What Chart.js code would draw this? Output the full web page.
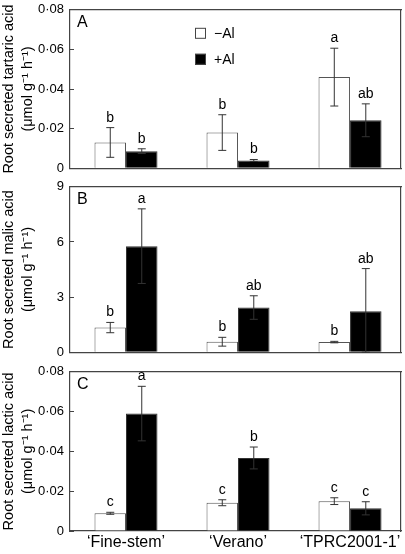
<!DOCTYPE html>
<html>
<head>
<meta charset="utf-8">
<script src="https://cdn.jsdelivr.net/npm/chart.js@4.4.0/dist/chart.umd.min.js"></script>
<style>
  html, body { margin: 0; padding: 0; background: #fff; overflow: hidden; }
  #wrap { position: relative; width: 405px; height: 554px; }
  .panel { position: absolute; left: 0; width: 405px; }
</style>
</head>
<body>
<div id="wrap">
  <div class="panel" style="top:-8px;height:194px"><canvas id="chartA"></canvas></div>
  <div class="panel" style="top:169px;height:201px"><canvas id="chartB"></canvas></div>
  <div class="panel" style="top:354px;height:200px"><canvas id="chartC"></canvas></div>
</div>
<script>
const cultivars = ["\u2018Fine-stem\u2019", "\u2018Verano\u2019", "\u2018TPRC2001-1\u2019"];
const treatments = ["\u2212Al", "+Al"];
const unitLine = "(\u03bcmol g\u207b\u00b9 h\u207b\u00b9)";

// A: tartaric acid
const tartaricMinusAl = [0.013, 0.018, 0.046];
const tartaricPlusAl = [0.0086, 0.0039, 0.0242];
const tartaricMinusAlErr = [0.0075, 0.009, 0.0146];
const tartaricPlusAlErr = [0.0012, 0.0005, 0.0083];
const tartaricMinusAlLetters = ["b", "b", "a"];
const tartaricPlusAlLetters = ["b", "b", "ab"];
const tartaricTicks = [0, 0.02, 0.04, 0.06, 0.08];

// B: malic acid
const malicMinusAl = [1.34, 0.57, 0.55];
const malicPlusAl = [5.77, 2.43, 2.23];
const malicMinusAlErr = [0.28, 0.24, 0.04];
const malicPlusAlErr = [2.03, 0.64, 2.32];
const malicMinusAlLetters = ["b", "b", "b"];
const malicPlusAlLetters = ["a", "ab", "ab"];
const malicTicks = [0, 3, 6, 9];

// C: lactic acid
const lacticMinusAl = [0.0089, 0.0142, 0.015];
const lacticPlusAl = [0.059, 0.0367, 0.0114];
const lacticMinusAlErr = [0.0005, 0.0015, 0.0017];
const lacticPlusAlErr = [0.0137, 0.0055, 0.0033];
const lacticMinusAlLetters = ["c", "c", "c"];
const lacticPlusAlLetters = ["a", "b", "c"];
const lacticTicks = [0, 0.02, 0.04, 0.06, 0.08];

const FONT = "'Liberation Sans', Arial, Helvetica, sans-serif";
const FRAME = "#444";

// error bars, letters, panel label, legend
const decoPlugin = {
  id: "deco",
  afterDatasetsDraw(chart, args, opts) {
    const ctx = chart.ctx;
    const area = chart.chartArea;
    const yScale = chart.scales.y;
    ctx.save();

    chart.data.datasets.forEach((ds, di) => {
      const meta = chart.getDatasetMeta(di);
      meta.data.forEach((bar, i) => {
        const v = ds.data[i].y;
        const e = ds.err[i];
        const yTop = yScale.getPixelForValue(v + e);
        const yBot = yScale.getPixelForValue(Math.max(0, v - e));
        ctx.strokeStyle = "#333";
        ctx.lineWidth = 1;
        ctx.beginPath();
        ctx.moveTo(bar.x, yTop); ctx.lineTo(bar.x, yBot);
        ctx.moveTo(bar.x - 4, yTop); ctx.lineTo(bar.x + 4, yTop);
        ctx.moveTo(bar.x - 4, yBot); ctx.lineTo(bar.x + 4, yBot);
        ctx.stroke();
        ctx.fillStyle = "#000";
        ctx.font = "14px " + FONT;
        ctx.textAlign = "center";
        ctx.textBaseline = "alphabetic";
        ctx.fillText(ds.letters[i], bar.x, yTop - 6);
      });
    });

    ctx.fillStyle = "#000";
    ctx.font = "16px " + FONT;
    ctx.textAlign = "left";
    ctx.textBaseline = "top";
    ctx.fillText(opts.letter, area.left + 7, area.top + 5);

    if (opts.legend) {
      ctx.font = "14px " + FONT;
      ctx.textBaseline = "middle";
      ctx.lineWidth = 1;
      chart.data.datasets.forEach((ds, di) => {
        const bx = area.left + 125, by = area.top + 18 + di * 26;
        ctx.fillStyle = ds.backgroundColor;
        ctx.fillRect(bx, by, 11, 11);
        ctx.strokeStyle = FRAME;
        ctx.strokeRect(bx + 0.5, by + 0.5, 10, 10);
        ctx.fillStyle = "#000";
        ctx.fillText(ds.label, bx + 19, by + 6);
      });
    }
    ctx.restore();
  }
};

const fmtTick = v => (v === 0 ? "0" : v.toFixed(Number.isInteger(v) ? 0 : 2).replace(".", "\u00b7"));

// plain axes used only to close the box on top and right
const edgeAxis = (axis, position) => ({
  axis: axis,
  position: position,
  display: true,
  grid: { display: false, drawTicks: false },
  ticks: { display: false },
  border: { display: true, color: FRAME, width: 1.2 },
  afterFit: s => { if (axis === "y") s.width = 0; else s.height = 0; }
});

function makePanel(id, p) {
  const mk = (vals, err, letters, ti, bg, bc) => ({
    label: treatments[ti],
    data: vals.map((v, i) => ({ x: i, y: v })),
    err: err,
    letters: letters,
    backgroundColor: bg,
    borderColor: bc,
    borderWidth: 1,
    categoryPercentage: 0.5625,
    barPercentage: 1
  });
  new Chart(document.getElementById(id), {
    type: "bar",
    data: {
      datasets: [
        mk(p.minus, p.minusErr, p.minusLetters, 0, "#ffffff", "#555"),
        mk(p.plus, p.plusErr, p.plusLetters, 1, "#000000", "#333")
      ]
    },
    options: {
      responsive: true,
      maintainAspectRatio: false,
      animation: false,
      layout: { padding: { top: 10, right: 4, bottom: p.showX ? 0 : 10, left: 0 } },
      plugins: {
        legend: { display: false },
        tooltip: { enabled: false },
        deco: { letter: p.letter, legend: p.legend }
      },
      scales: {
        x: {
          type: "linear",
          bounds: "data",
          offset: false,
          min: -0.5,
          max: 2.455,
          display: true,
          grid: { display: false, drawTicks: false },
          border: { display: true, color: FRAME, width: 1.2 },
          afterBuildTicks: s => { s.ticks = cultivars.map((c, i) => ({ value: i })); },
          afterFit: s => { s.height = p.showX ? 23 : 0; },
          ticks: {
            display: p.showX,
            callback: v => cultivars[v],
            font: { family: FONT, size: 16 },
            color: "#000",
            padding: 2,
            maxRotation: 0,
            autoSkip: false
          }
        },
        xTop: edgeAxis("x", "top"),
        y: {
          min: 0,
          max: p.ticks[p.ticks.length - 1],
          afterBuildTicks: s => { s.ticks = p.ticks.map(v => ({ value: v })); },
          afterFit: s => { s.width = 70; },
          grid: { display: true, drawOnChartArea: false, drawTicks: true, tickLength: -4, color: FRAME, lineWidth: 1 },
          border: { display: true, color: FRAME, width: 1.2 },
          ticks: {
            font: { family: FONT, size: 13 },
            color: "#000",
            padding: 10,
            callback: v => fmtTick(v)
          },
          title: {
            display: true,
            text: [p.title, unitLine],
            font: { family: FONT, size: 14.5, lineHeight: 1.3 },
            color: "#000",
            padding: { top: 0, bottom: 0 }
          }
        },
        yRight: edgeAxis("y", "right")
      }
    },
    plugins: [decoPlugin]
  });
}

makePanel("chartA", {
  letter: "A", legend: true, showX: false, title: "Root secreted tartaric acid", ticks: tartaricTicks,
  minus: tartaricMinusAl, plus: tartaricPlusAl, minusErr: tartaricMinusAlErr, plusErr: tartaricPlusAlErr,
  minusLetters: tartaricMinusAlLetters, plusLetters: tartaricPlusAlLetters
});
makePanel("chartB", {
  letter: "B", legend: false, showX: false, title: "Root secreted malic acid", ticks: malicTicks,
  minus: malicMinusAl, plus: malicPlusAl, minusErr: malicMinusAlErr, plusErr: malicPlusAlErr,
  minusLetters: malicMinusAlLetters, plusLetters: malicPlusAlLetters
});
makePanel("chartC", {
  letter: "C", legend: false, showX: true, title: "Root secreted lactic acid", ticks: lacticTicks,
  minus: lacticMinusAl, plus: lacticPlusAl, minusErr: lacticMinusAlErr, plusErr: lacticPlusAlErr,
  minusLetters: lacticMinusAlLetters, plusLetters: lacticPlusAlLetters
});
</script>
</body>
</html>
